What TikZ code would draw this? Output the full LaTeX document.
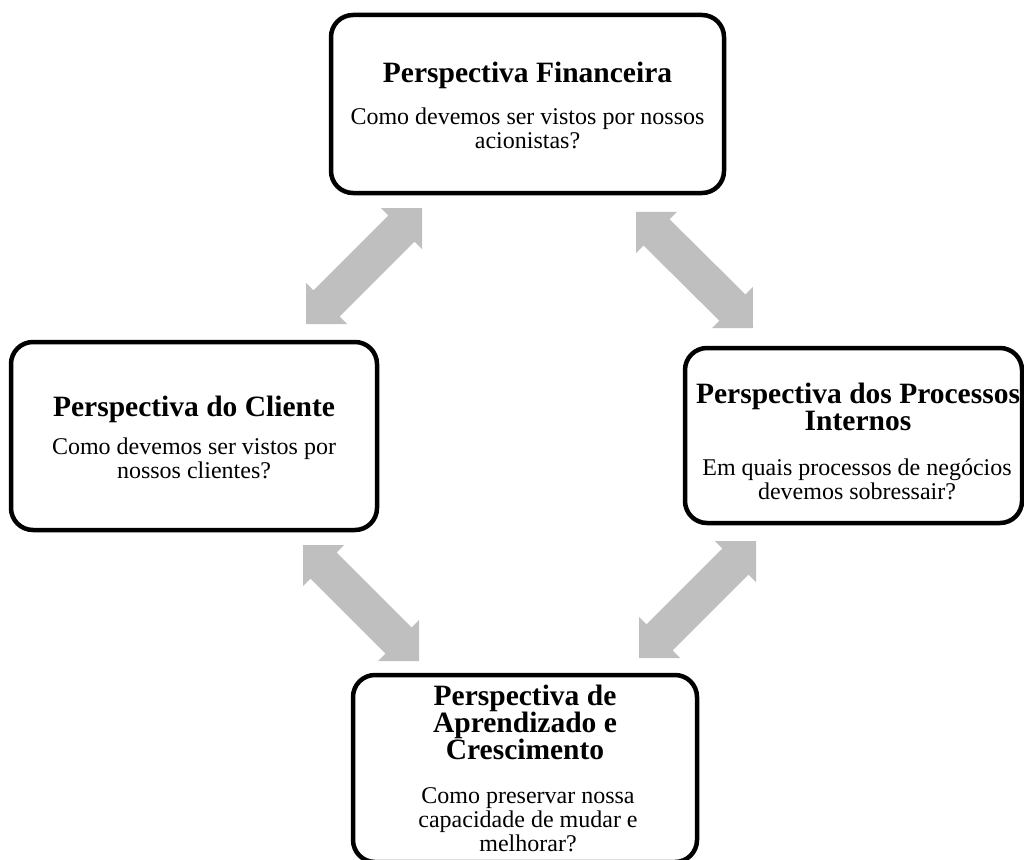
\documentclass[tikz,border=0pt]{standalone}
\usepackage{fontspec}
\setmainfont{Liberation Serif}
\usetikzlibrary{calc}

% grey double-headed block arrow between two named coordinates
\newcommand\blockarrow[2]{%
  \fill[arrowfill] (#1)
    -- ($(#1)!29pt!(#2)!29pt!90:(#2)$)
    -- ($(#1)!29pt!(#2)!18.5pt!90:(#2)$)
    -- ($(#2)!29pt!(#1)!18.5pt!-90:(#1)$)
    -- ($(#2)!29pt!(#1)!29pt!-90:(#1)$)
    -- (#2)
    -- ($(#2)!29pt!(#1)!29pt!90:(#1)$)
    -- ($(#2)!29pt!(#1)!18.5pt!90:(#1)$)
    -- ($(#1)!29pt!(#2)!18.5pt!-90:(#2)$)
    -- ($(#1)!29pt!(#2)!29pt!-90:(#2)$)
    -- cycle;}

\definecolor{arrowgray}{RGB}{191,191,191}

% text nodes are placed by the baseline of their last line
\tikzset{
  perspbox/.style={draw=black, line width=4.5pt, rounded corners=22pt,
    fill=white, inner sep=0pt, outer sep=0pt},
  arrowfill/.style={fill=arrowgray},
  titletext/.style={anchor=base, align=center, inner sep=0pt,
    font=\fontsize{29.5}{27}\selectfont\bfseries},
  bodytext/.style={anchor=base, align=center, inner sep=0pt,
    font=\fontsize{24}{24}\selectfont},
}

\begin{document}
\begin{tikzpicture}[x=1pt, y=-1pt]
  \useasboundingbox (0,0) rectangle (1024,859);
  \clip (0,0) rectangle (1024,859);

  % the four perspective boxes
  \node[perspbox, minimum width=393pt, minimum height=178pt] (fin) at (527.5,104) {};
  \node[perspbox, minimum width=366pt, minimum height=188pt] (cli) at (194,436) {};
  \node[perspbox, minimum width=337pt, minimum height=175pt] (proc) at (853.5,435.5) {};
  \node[perspbox, minimum width=344pt, minimum height=187pt] (apr) at (525,768.5) {};

  % box texts
  \node[titletext] (fint) at (527.5,82) {Perspectiva Financeira};
  \node[bodytext]  (finb) at (527.5,148) {Como devemos ser vistos por nossos\\acionistas?};

  \node[titletext] (clit) at (194,416) {Perspectiva do Cliente};
  \node[bodytext]  (clib) at (194,478) {Como devemos ser vistos por\\nossos clientes?};

  \node[titletext] (proct) at (858,430) {Perspectiva dos Processos\\Internos};
  \node[bodytext]  (procb) at (857,499) {Em quais processos de negócios\\devemos sobressair?};

  \node[titletext] (aprt) at (525,759) {Perspectiva de\\Aprendizado e\\Crescimento};
  \node[bodytext]  (aprb) at (528,851) {Como preservar nossa\\capacidade de mudar e\\melhorar?};

  % arrow end points
  \coordinate (a1s) at (306,324);  \coordinate (a1e) at (422,208);
  \coordinate (a2s) at (636,212);  \coordinate (a2e) at (753,328);
  \coordinate (a3s) at (303,545);  \coordinate (a3e) at (419,661);
  \coordinate (a4s) at (639,658);  \coordinate (a4e) at (756,541);

  \blockarrow{a1s}{a1e}
  \blockarrow{a2s}{a2e}
  \blockarrow{a3s}{a3e}
  \blockarrow{a4s}{a4e}
\end{tikzpicture}
\end{document}
